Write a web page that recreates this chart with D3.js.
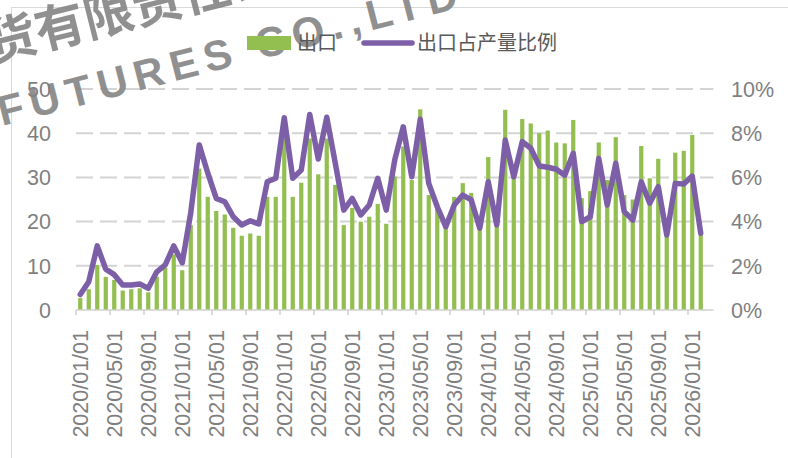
<!DOCTYPE html>
<html>
<head>
<meta charset="utf-8">
<script src="https://cdn.jsdelivr.net/npm/d3@7"></script>
<style>
  html, body { margin: 0; padding: 0; background: #fff; }
  svg { display: block; }
</style>
</head>
<body>
<div id="chart"></div>
<script>
// months 2020/01 .. 2026/03 (last category has no data)
var months = d3.timeMonth.range(new Date(2020, 0, 1), new Date(2026, 3, 1));

// 出口 (left axis)
var exportVals = [
  2.7, 4.7, 10.2, 7.5, 6.8, 4.4, 4.7, 4.9, 4.0, 7.5, 9.6, 12.6,
  9.0, 19.2, 32, 25.6, 22.4, 21.6, 18.6, 16.8, 17.3, 16.8, 25.6, 25.6,
  38.8, 25.6, 28.8, 38.8, 30.7, 38.8, 28.3, 19.2, 23.1, 20.0, 21.1, 24.0,
  19.5, 30.2, 37, 29.4, 45.4, 26.0, 24.0, 18.9, 25.6, 28.7, 26.5, 18.5,
  34.6, 19.5, 45.3, 31, 43.2, 42.2, 40.0, 40.6, 37.9, 37.7, 43.0, 25.3,
  26.9, 37.9, 29.4, 39.1, 26.0, 25.0, 37.1, 29.8, 34.2, 18, 35.6, 36.0,
  39.6, 17.0
];

// 出口占产量比例 (%, right axis)
var ratioVals = [
  0.7, 1.28, 2.9, 1.85, 1.6, 1.13, 1.13, 1.18, 0.98, 1.73, 2.04, 2.9,
  2.14, 4.4, 7.47, 6.2, 5.05, 4.9, 4.22, 3.85, 4.04, 3.89, 5.8, 5.96,
  8.7, 5.96, 6.33, 8.85, 6.83, 8.72, 6.65, 4.52, 5.05, 4.3, 4.75, 5.96,
  4.52, 6.79, 8.29, 6.03, 8.63, 5.73, 4.67, 3.77, 4.75, 5.2, 4.98, 3.7,
  5.8, 3.85, 7.69, 6.03, 7.62, 7.32, 6.52, 6.46, 6.37, 6.1, 7.09, 4.0,
  4.22, 6.86, 4.75, 6.64, 4.45, 4.07, 5.8, 4.83, 5.58, 3.39, 5.73, 5.7,
  6.06, 3.47
];

var leftTicks = [0, 10, 20, 30, 40, 50];
var rightTicks = [0, 2, 4, 6, 8, 10];
var seriesNames = ["出口", "出口占产量比例"];

var W = 788, H = 458;
var green = "#92bf4f", purple = "#7d5fa8", labelColor = "#7f7f7f";

var fmt = d3.timeFormat("%Y/%m/%d");
var keys = months.map(fmt);

var svg = d3.select("#chart").append("svg")
  .attr("width", W).attr("height", H);

// chart frame
svg.append("rect")
  .attr("x", 11.5).attr("y", 7.5)
  .attr("width", W + 10).attr("height", H + 10)
  .attr("fill", "none").attr("stroke", "#d9d9d9");

var x = d3.scaleBand().domain(keys).range([76, 713.5]).padding(0);
var yL = d3.scaleLinear().domain([0, 50]).range([310, 89]);
var yR = d3.scaleLinear().domain([0, 10]).range([310, 89]);

// gridlines
svg.append("g").selectAll("line")
  .data(leftTicks.filter(d => d > 0))
  .enter().append("line")
  .attr("x1", 76).attr("x2", 713.5)
  .attr("y1", d => yL(d)).attr("y2", d => yL(d))
  .attr("stroke", "#d4d4d4")
  .attr("stroke-width", 2)
  .attr("stroke-dasharray", "17 7");

// watermark (sits under the plot marks and legend)
var wm = svg.append("g").attr("fill", "#858585").attr("opacity", 0.9)
  .attr("font-weight", "bold");
wm.append("text")
  .attr("transform", "translate(40, 50) rotate(-14)")
  .attr("x", -100)
  .attr("font-family", "Noto Sans CJK SC, sans-serif")
  .attr("font-size", 50)
  .text("期货有限责任公司");
wm.append("text")
  .attr("transform", "translate(2, 126) rotate(-14.5)")
  .attr("font-family", "Liberation Sans, Arial, sans-serif")
  .attr("font-size", 42)
  .attr("letter-spacing", 7)
  .text("FUTURES CO.,LTD");

// bars
var bw = x.bandwidth();
svg.append("g").selectAll("rect")
  .data(exportVals)
  .enter().append("rect")
  .attr("x", (d, i) => x(keys[i]) + bw / 2 - 2.1)
  .attr("width", 4.2)
  .attr("y", d => yL(d))
  .attr("height", d => yL(0) - yL(d))
  .attr("fill", green);

// x axis line + ticks between categories
var xAxis = svg.append("g").attr("class", "x-axis");
xAxis.append("line")
  .attr("x1", 76).attr("x2", 713.5)
  .attr("y1", 310).attr("y2", 310)
  .attr("stroke", "#d0d0d0").attr("stroke-width", 1.5);

var labelKeys = keys.filter((d, i) => i % 4 === 0 && i < 74);
xAxis.selectAll("line.tick")
  .data(labelKeys)
  .enter().append("line")
  .attr("class", "tick")
  .attr("x1", d => x(d)).attr("x2", d => x(d))
  .attr("y1", 310).attr("y2", 315)
  .attr("stroke", "#d0d0d0").attr("stroke-width", 1.5);

xAxis.selectAll("text")
  .data(labelKeys)
  .enter().append("text")
  .attr("transform", d => `translate(${x(d) + bw / 2}, 330) rotate(-90)`)
  .attr("dy", "0.36em")
  .attr("text-anchor", "end")
  .attr("font-family", "Liberation Sans, Arial, sans-serif")
  .attr("font-size", 21.5)
  .attr("fill", labelColor)
  .text(d => d);

// left axis labels
svg.append("g").selectAll("text")
  .data(leftTicks)
  .enter().append("text")
  .attr("x", 51).attr("y", d => yL(d))
  .attr("dy", "0.36em")
  .attr("text-anchor", "end")
  .attr("font-family", "Liberation Sans, Arial, sans-serif")
  .attr("font-size", 21.5)
  .attr("fill", labelColor)
  .text(d => d);

// right axis labels
svg.append("g").selectAll("text")
  .data(rightTicks)
  .enter().append("text")
  .attr("x", 731).attr("y", d => yR(d))
  .attr("dy", "0.36em")
  .attr("text-anchor", "start")
  .attr("font-family", "Liberation Sans, Arial, sans-serif")
  .attr("font-size", 21.5)
  .attr("fill", labelColor)
  .text(d => d + "%");

// ratio line
var line = d3.line()
  .x((d, i) => x(keys[i]) + bw / 2)
  .y(d => yR(d));

svg.append("path")
  .datum(ratioVals)
  .attr("d", line)
  .attr("fill", "none")
  .attr("stroke", purple)
  .attr("stroke-width", 5.5)
  .attr("stroke-linejoin", "round")
  .attr("stroke-linecap", "round");

// legend (centred at top, Excel style)
var lg = svg.append("g").attr("font-family", "Noto Sans CJK SC, sans-serif")
  .attr("font-size", 20).attr("fill", "#595959");
lg.append("rect").attr("x", 247).attr("y", 36).attr("width", 44).attr("height", 14).attr("fill", green);
lg.append("text").attr("x", 297).attr("y", 43).attr("dy", "0.36em").text(seriesNames[0]);
lg.append("line").attr("x1", 364).attr("x2", 412).attr("y1", 43).attr("y2", 43)
  .attr("stroke", purple).attr("stroke-width", 5.5).attr("stroke-linecap", "round");
lg.append("text").attr("x", 417).attr("y", 43).attr("dy", "0.36em").text(seriesNames[1]);
</script>
</body>
</html>
